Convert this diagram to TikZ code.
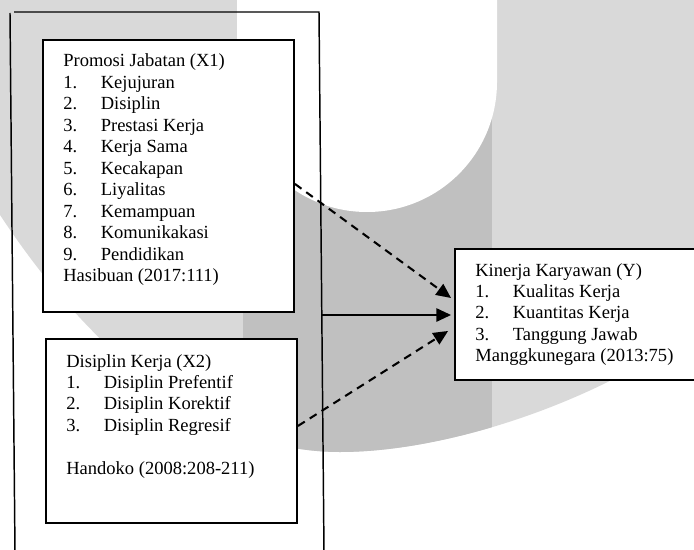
\documentclass[tikz,border=0pt]{standalone}
\usepackage{fontspec}
\setmainfont{Liberation Serif}
\usepackage{array}
\usetikzlibrary{arrows.meta}

\definecolor{wmlight}{HTML}{D9D9D9}
\definecolor{wmdark}{HTML}{C0C0C0}

\begin{document}
\begin{tikzpicture}[x=0.68pt, y=-0.68pt,
    box/.style={draw, line width=1.3pt, fill=white, anchor=north west, inner sep=0},
    list/.style={anchor=base west, inner sep=0, font=\fontsize{12.6}{14.6}\selectfont},
    dasharrow/.style={-{Triangle[length=10pt,width=9pt]}, line width=1.4pt, dash pattern=on 5.5pt off 4pt},
    fullarrow/.style={-{Triangle[length=10pt,width=9pt]}, line width=1.4pt}]
    \useasboundingbox (0,0) rectangle (694,549);
    \clip (0,0) rectangle (694,549);

    % watermark
    \fill[wmlight] (0,0) -- (694,0) -- (694,330) .. controls (600,400) and (450,452) .. (340,452)
        .. controls (170,452) and (50,290) .. (0,215) -- cycle;
    \begin{scope}
        \clip (0,0) -- (694,0) -- (694,330) .. controls (600,400) and (450,452) .. (340,452)
            .. controls (170,452) and (50,290) .. (0,215) -- cycle;
        \fill[wmdark] (243,0) rectangle (492,549);
    \end{scope}
    \fill[white] (237,-5) -- (237,82) arc[start angle=180, end angle=0, radius=130] -- (497,-5) -- cycle;

    % frame
    \draw[line width=1pt] (10,13) -- (15,552);
    \draw[line width=1pt] (14,12) -- (319,12) -- (324,552);

    \node[box, minimum width=170.7pt, minimum height=185pt] (x1) at (42,39) {};
    \node[box, minimum width=170.7pt, minimum height=125.1pt] (x2) at (45,338) {};
    \node[box, minimum width=167.3pt, minimum height=89.1pt] (y) at (454,248) {};

    \node[list] (x1list) at (63,67) {\begin{tabular}[t]{@{}p{25.5pt}@{}l@{}}
        \multicolumn{2}{@{}l@{}}{Promosi Jabatan (X1)}\\
        1. & Kejujuran\\
        2. & Disiplin\\
        3. & Prestasi Kerja\\
        4. & Kerja Sama\\
        5. & Kecakapan\\
        6. & Liyalitas\\
        7. & Kemampuan\\
        8. & Komunikakasi\\
        9. & Pendidikan\\
        \multicolumn{2}{@{}l@{}}{Hasibuan (2017:111)}
    \end{tabular}};
    \node[list] (x2list) at (66,367) {\begin{tabular}[t]{@{}p{25.5pt}@{}l@{}}
        \multicolumn{2}{@{}l@{}}{Disiplin Kerja (X2)}\\
        1. & Disiplin Prefentif\\
        2. & Disiplin Korektif\\
        3. & Disiplin Regresif\\
        & \\
        \multicolumn{2}{@{}l@{}}{Handoko (2008:208-211)}
    \end{tabular}};
    \node[list] (ylist) at (475,276) {\begin{tabular}[t]{@{}p{25.5pt}@{}l@{}}
        \multicolumn{2}{@{}l@{}}{Kinerja Karyawan (Y)}\\
        1. & Kualitas Kerja\\
        2. & Kuantitas Kerja\\
        3. & Tanggung Jawab\\
        \multicolumn{2}{@{}l@{}}{Manggkunegara (2013:75)}
    \end{tabular}};

    \coordinate (fr) at (321,315);
    \draw[dasharrow] ([yshift=-5.4pt]x1.east) -- ([xshift=-2pt,yshift=11.2pt]y.west);
    \draw[fullarrow] (fr) -- ([xshift=-2pt]y.west |- fr);
    \draw[dasharrow] ([yshift=3.4pt]x2.east) -- ([xshift=-4pt,yshift=-11.2pt]y.west);
\end{tikzpicture}
\end{document}
